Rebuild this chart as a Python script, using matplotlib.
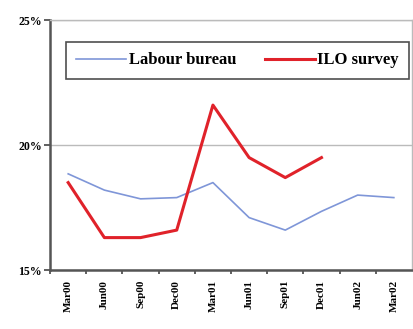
import matplotlib
matplotlib.use("Agg")
import matplotlib.pyplot as plt
import numpy as np

quarters = ["Mar00", "Jun00", "Sep00", "Dec00", "Mar01", "Jun01",
            "Sep01", "Dec01", "Jun02", "Mar02"]
labour_bureau = [18.85, 18.2, 17.85, 17.9, 18.5, 17.1, 16.6, 17.35, 18.0, 17.9]
ilo_survey = [18.5, 16.3, 16.3, 16.6, 21.6, 19.5, 18.7, 19.5]

plt.rcParams['font.family'] = ['Liberation Serif', 'DejaVu Serif']

fig = plt.figure(figsize=(4.14, 3.29), dpi=100)
ax = fig.add_axes([0.121, 0.179, 0.874, 0.76])

x = np.arange(len(quarters))
ax.plot(x, labour_bureau, color="#7f96d8", lw=1.2, label="Labour bureau")
ax.plot(x[:len(ilo_survey)], ilo_survey, color="#e0222a", lw=2.2, label="ILO survey")

ax.set_xlim(-0.5, len(quarters) - 0.5)
ax.set_ylim(15, 25)
ax.set_yticks([15, 20, 25])
ax.set_yticklabels(["15%", "20%", "25%"], fontsize=8.5, fontweight="bold")
ax.set_xticks(x)
ax.set_xticklabels(quarters, rotation=90, fontsize=8, fontweight="bold")
ax.tick_params(axis="x", length=0, pad=7)
ax.set_xticks(np.arange(len(quarters)) - 0.5, minor=True)
ax.tick_params(axis="x", which="minor", length=3, width=1.2, color="#444444")
ax.tick_params(axis="y", length=4, width=1.2, color="#444444", pad=2)

ax.yaxis.grid(True, color="#bbbbbb", lw=1.0)
ax.set_axisbelow(True)
for side in ["left", "bottom"]:
    ax.spines[side].set_color("#555555")
    ax.spines[side].set_linewidth(1.8)
for side in ["top", "right"]:
    ax.spines[side].set_color("#bbbbbb")
    ax.spines[side].set_linewidth(1.0)

leg = ax.legend(loc="upper left", bbox_to_anchor=(0.044, 0.912), borderaxespad=0,
                ncol=2, frameon=True, fancybox=False,
                prop={"size": 12, "weight": "bold"},
                handlelength=3.0, columnspacing=1.7, handletextpad=0.15,
                borderpad=0.62)
leg.get_frame().set_edgecolor("#222222")
leg.get_frame().set_linewidth(1.2)

fig.savefig("out.png", dpi=100)
